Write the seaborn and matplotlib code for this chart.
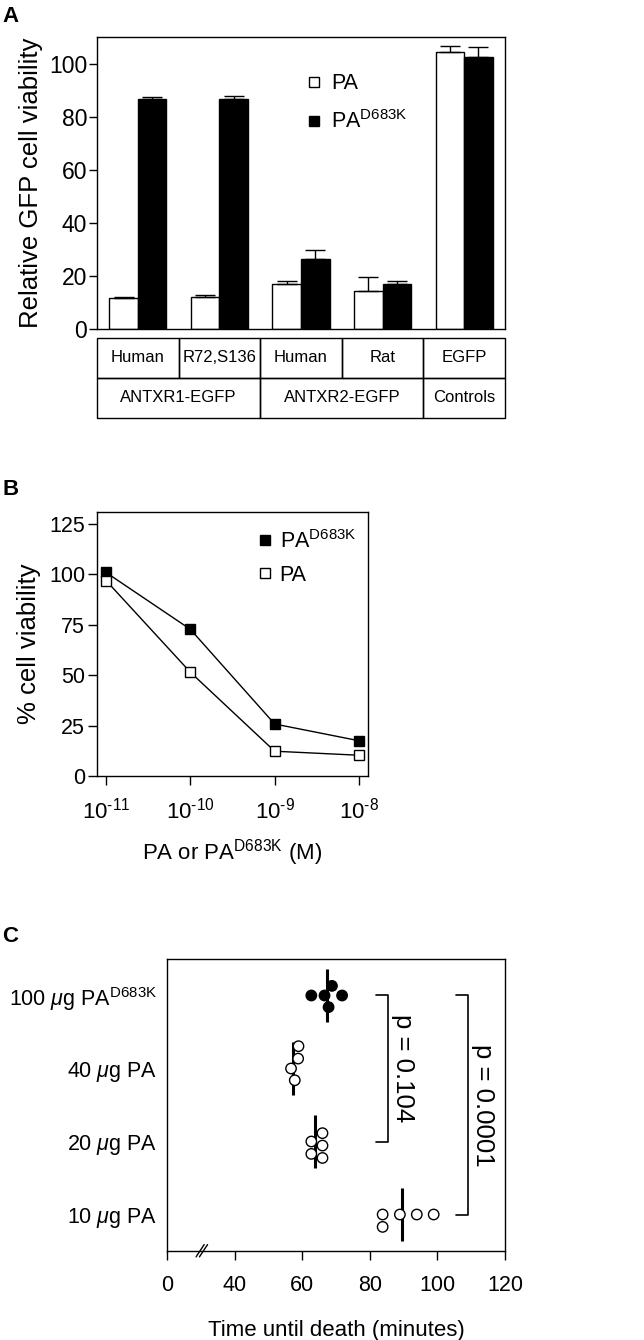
import numpy as np
import pandas as pd
import matplotlib
matplotlib.use("Agg")
import matplotlib.pyplot as plt
import matplotlib.transforms as mtransforms
from matplotlib.lines import Line2D
from matplotlib.patches import Rectangle
from matplotlib.ticker import NullLocator
import seaborn as sns

# ---- data, panel A ----
cell_lines = ["ANTXR1 Human", "ANTXR1 R72,S136", "ANTXR2 Human", "ANTXR2 Rat", "EGFP control"]
row1_labels = ["Human", "R72,S136", "Human", "Rat", "EGFP"]
row2_labels = ["ANTXR1-EGFP", "ANTXR2-EGFP", "Controls"]
row2_groups = [(0, 1), (2, 3), (4, 4)]
pa_via = [11.7, 12.2, 17.0, 14.3, 104.6]
pa_err = [0.5, 0.5, 1.1, 5.4, 2.3]
mut_via = [86.7, 86.7, 26.4, 17.1, 102.5]
mut_err = [0.8, 1.4, 3.4, 1.0, 3.8]

# ---- data, panel B ----
conc = [1e-11, 1e-10, 1e-9, 1e-8]
conc_labels = [r"10$^{\text{-}11}$", r"10$^{\text{-}10}$", r"10$^{\text{-}9}$", r"10$^{\text{-}8}$"]
curve_mut = [101.0, 72.8, 25.8, 17.5]
curve_pa = [97.0, 51.5, 12.3, 10.3]

# ---- data, panel C ----
doses = [r"100 $\mu$g PA$^{\mathrm{D683K}}$", r"40 $\mu$g PA", r"20 $\mu$g PA", r"10 $\mu$g PA"]
time_100 = [66.6, 71.8, 67.8, 62.7, 68.8]
time_40 = [57.8, 58.9, 56.7, 58.8]
time_20 = [62.7, 62.7, 66.0, 66.0, 66.0]
time_10 = [83.8, 83.8, 88.9, 93.9, 98.9]
mean_time = [67.3, 57.4, 63.9, 89.4]
comparisons = [(0, 2, "p = 0.104", 85.4), (0, 3, "p = 0.0001", 109.2)]

sns.set_style("ticks")
plt.rcParams["font.family"] = ["Liberation Sans", "DejaVu Sans"]
plt.rcParams["mathtext.fontset"] = "custom"
plt.rcParams["mathtext.rm"] = "Liberation Sans"
plt.rcParams["mathtext.it"] = "Liberation Sans:italic"
plt.rcParams["axes.linewidth"] = 1.0
plt.rcParams["axes.edgecolor"] = "black"
plt.rcParams["xtick.color"] = "black"
plt.rcParams["ytick.color"] = "black"
plt.rcParams["text.color"] = "black"
plt.rcParams["axes.labelcolor"] = "black"

W, H = 644, 1340
fig = plt.figure(figsize=(W / 100, H / 100), dpi=100)


def box(l, t, r, b):
    return [l / W, 1 - b / H, (r - l) / W, (b - t) / H]


# ================= Panel A =================
axA = fig.add_axes(box(97, 37, 505, 329))
dfa = pd.DataFrame({
    "line": cell_lines * 2,
    "toxin": ["PA"] * 5 + ["PA D683K"] * 5,
    "viability": pa_via + mut_via,
})
sns.barplot(data=dfa, x="line", y="viability", hue="toxin", order=cell_lines,
            palette={"PA": "white", "PA D683K": "black"}, edgecolor="black",
            linewidth=1, width=0.7, errorbar=None, legend=False, ax=axA)
for cont, err in zip(axA.containers, [pa_err, mut_err]):
    xs = [b.get_x() + b.get_width() / 2 for b in cont]
    hs = [b.get_height() for b in cont]
    axA.errorbar(xs, hs, yerr=[np.zeros(len(err)), err], fmt="none",
                 ecolor="black", elinewidth=1, capsize=7, capthick=1)
axA.set_xlim(-0.5, 4.5)
axA.set_ylim(0, 110.2)
axA.set_yticks([0, 20, 40, 60, 80, 100])
axA.set_xticks([])
axA.set_xlabel("")
axA.set_ylabel("Relative GFP cell viability", fontsize=18.5, labelpad=4)
axA.tick_params(axis="y", direction="out", length=5.5, width=1, labelsize=16.5, pad=1.5)
legA = [Line2D([], [], ls="none", marker="s", markersize=7, mfc="white", mec="black", mew=1),
        Line2D([], [], ls="none", marker="s", markersize=7, mfc="black", mec="black", mew=1)]
axA.legend(legA, ["PA", r"PA$^{\mathrm{D683K}}$"], loc="upper left",
           bbox_to_anchor=(0.49, 0.905), frameon=False, fontsize=15.5,
           handlelength=0.8, handletextpad=0.4, labelspacing=0.75, borderaxespad=0)

# table under panel A
tab = fig.add_axes(box(97, 338, 505, 418))
tab.set_xlim(-0.5, 4.5)
tab.set_ylim(0, 2)
tab.axis("off")
for i, lab in enumerate(row1_labels):
    tab.add_patch(Rectangle((i - 0.5, 1), 1, 1, fill=False, ec="black", lw=1, clip_on=False))
    tab.text(i, 1.5, lab, ha="center", va="center", fontsize=12)
for (a, b), lab in zip(row2_groups, row2_labels):
    tab.add_patch(Rectangle((a - 0.5, 0), b - a + 1, 1, fill=False, ec="black", lw=1, clip_on=False))
    tab.text((a + b) / 2, 0.5, lab, ha="center", va="center", fontsize=12)

# ================= Panel B =================
axB = fig.add_axes(box(97, 512, 368, 776))
sns.lineplot(x=conc, y=curve_mut, color="black", lw=1, marker="s", markersize=7,
             markerfacecolor="black", markeredgecolor="black", markeredgewidth=1, ax=axB)
sns.lineplot(x=conc, y=curve_pa, color="black", lw=1, marker="s", markersize=7,
             markerfacecolor="white", markeredgecolor="black", markeredgewidth=1, ax=axB)
axB.set_xscale("log")
axB.set_xlim(10 ** -11.107, 10 ** -7.893)
axB.set_ylim(0, 131)
axB.set_yticks([0, 25, 50, 75, 100, 125])
axB.set_xticks(conc)
axB.set_xticklabels(conc_labels)
axB.xaxis.set_minor_locator(NullLocator())
axB.tick_params(axis="both", direction="out", length=6.5, width=1, labelsize=15.5)
axB.tick_params(axis="y", pad=2)
axB.tick_params(axis="x", labelsize=16, pad=9)
axB.set_ylabel("% cell viability", fontsize=18.5, labelpad=6)
axB.set_xlabel(r"PA or PA$^{\mathrm{D683K}}$ (M)", fontsize=16, labelpad=10)
legB = [Line2D([], [], ls="none", marker="s", markersize=7, mfc="black", mec="black", mew=1),
        Line2D([], [], ls="none", marker="s", markersize=7, mfc="white", mec="black", mew=1)]
axB.legend(legB, [r"PA$^{\mathrm{D683K}}$", "PA"], loc="upper left",
           bbox_to_anchor=(0.555, 0.965), frameon=False, fontsize=15.5,
           handlelength=0.8, handletextpad=0.3, labelspacing=0.55, borderaxespad=0)

# ================= Panel C =================
axC = fig.add_axes(box(167, 959, 505, 1251))
dfc = pd.DataFrame({
    "dose": [doses[0]] * len(time_100) + [doses[1]] * len(time_40)
            + [doses[2]] * len(time_20) + [doses[3]] * len(time_10),
    "time": time_100 + time_40 + time_20 + time_10,
})
dose_colors = {doses[0]: "black", doses[1]: "white", doses[2]: "white", doses[3]: "white"}
sns.swarmplot(data=dfc, x="time", y="dose", order=doses, hue="dose", palette=dose_colors,
              edgecolor="black", linewidth=1, size=7.5, legend=False, ax=axC, zorder=3)
for i, m in enumerate(mean_time):
    axC.plot([m, m], [i - 0.36, i + 0.36], color="black", lw=2.2, zorder=1,
             solid_capstyle="butt")
for a, b, txt, xb in comparisons:
    axC.plot([xb - 3.6, xb, xb, xb - 3.6], [a, a, b, b], color="black", lw=1.2)
    axC.text(xb + 4.4, (a + b) / 2, txt, rotation=270, ha="center", va="center", fontsize=18.5)
axC.set_xlim(20, 120)
axC.set_ylim(3.5, -0.5)
axC.set_xticks([20, 40, 60, 80, 100, 120])
axC.set_xticklabels(["0", "40", "60", "80", "100", "120"])
axC.tick_params(axis="x", direction="out", length=6.5, width=1, labelsize=15.5, pad=11)
axC.tick_params(axis="y", length=0, labelsize=15.5, pad=7)
axC.set_ylabel("")
axC.set_xlabel("Time until death (minutes)", fontsize=16, labelpad=17)
# axis break mark
trans = mtransforms.blended_transform_factory(axC.transData, axC.transAxes)
for dx in (0.0, 1.0):
    axC.plot([28.6 + dx, 31.0 + dx], [-0.02, 0.022], color="black", lw=1,
             transform=trans, clip_on=False)

# panel letters
fig.text(2 / W, 1 - 22 / H, "A", fontsize=16, fontweight="bold", va="baseline")
fig.text(2 / W, 1 - 495 / H, "B", fontsize=16, fontweight="bold", va="baseline")
fig.text(2 / W, 1 - 942 / H, "C", fontsize=16, fontweight="bold", va="baseline")

fig.savefig("out.png", dpi=100)
